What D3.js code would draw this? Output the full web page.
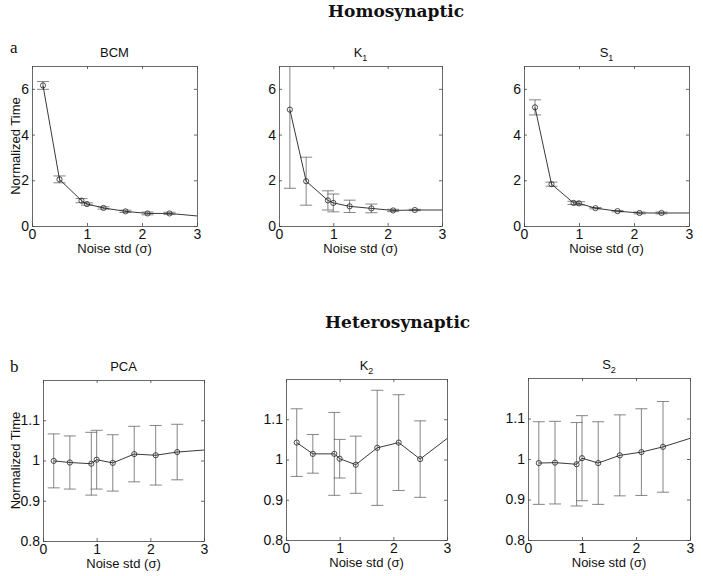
<!DOCTYPE html>
<html>
<head>
<meta charset="utf-8">
<script src="https://cdn.jsdelivr.net/npm/d3@7"></script>
<style>
  body { margin: 0; background: #fff; }
  svg { display: block; }
  .tick text { font-family: "Liberation Sans", Arial, sans-serif; font-size: 14px; fill: #111; }
  .lab { font-family: "Liberation Sans", Arial, sans-serif; font-size: 13px; fill: #111; }
  .sect { font-family: "DejaVu Serif", serif; font-weight: bold; font-size: 17px; fill: #111; }
  .letter { font-family: "Liberation Serif", "DejaVu Serif", serif; font-size: 17px; fill: #111; }
</style>
</head>
<body>
<div id="chart"></div>
<script>
// noise levels where the runs were done (line continues to x = 3 without marker)
const noiseStd = [0.2, 0.5, 0.9, 1.0, 1.3, 1.7, 2.1, 2.5];
const lineEndX = 3;

// Homosynaptic
const bcmMean = [6.15, 2.04, 1.11, 0.96, 0.79, 0.64, 0.55, 0.55];
const bcmErr  = [0.17, 0.15, 0.09, 0.05, 0.05, 0.05, 0.06, 0.05];
const bcmEnd  = 0.44;
const k1Mean  = [5.09, 1.96, 1.12, 1.01, 0.86, 0.77, 0.68, 0.70];
const k1Err   = [3.44, 1.05, 0.42, 0.39, 0.27, 0.19, 0.05, 0.03];
const k1End   = 0.70;
const s1Mean  = [5.19, 1.83, 1.01, 0.99, 0.78, 0.65, 0.57, 0.57];
const s1Err   = [0.33, 0.09, 0.07, 0.07, 0.03, 0.03, 0.04, 0.04];
const s1End   = 0.57;

// Heterosynaptic
const pcaMean = [0.999, 0.995, 0.992, 1.002, 0.994, 1.016, 1.013, 1.021];
const pcaErr  = [0.067, 0.066, 0.078, 0.073, 0.070, 0.069, 0.074, 0.069];
const pcaEnd  = 1.026;
const k2Mean  = [1.042, 1.014, 1.014, 1.002, 0.987, 1.029, 1.042, 1.001];
const k2Err   = [0.084, 0.048, 0.103, 0.048, 0.071, 0.143, 0.119, 0.095];
const k2End   = 1.052;
const s2Mean  = [0.990, 0.991, 0.987, 1.002, 0.990, 1.009, 1.017, 1.030];
const s2Err   = [0.102, 0.102, 0.103, 0.105, 0.102, 0.100, 0.107, 0.112];
const s2End   = 1.051;

const xTicks = [0, 1, 2, 3];
const yTicksTop = [0, 2, 4, 6];
const yTicksBottom = [0.8, 0.9, 1, 1.1];
const yDomainTop = [0, 7];
const yDomainBottom = [0.8, 1.2];

const W = 703, H = 576;
const svg = d3.select('#chart').append('svg').attr('width', W).attr('height', H);

const panels = [
  { name: 'BCM', sub: null, mean: bcmMean, err: bcmErr, end: bcmEnd, left: 32,  top: 66,  w: 165, h: 160, dom: yDomainTop, ticks: yTicksTop, ylabel: true },
  { name: 'K',   sub: '1',  mean: k1Mean,  err: k1Err,  end: k1End,  left: 279, top: 66,  w: 163, h: 160, dom: yDomainTop, ticks: yTicksTop, ylabel: false },
  { name: 'S',   sub: '1',  mean: s1Mean,  err: s1Err,  end: s1End,  left: 524, top: 66,  w: 165, h: 160, dom: yDomainTop, ticks: yTicksTop, ylabel: false },
  { name: 'PCA', sub: null, mean: pcaMean, err: pcaErr, end: pcaEnd, left: 43,  top: 380, w: 161, h: 161, dom: yDomainBottom, ticks: yTicksBottom, ylabel: true },
  { name: 'K',   sub: '2',  mean: k2Mean,  err: k2Err,  end: k2End,  left: 286, top: 379, w: 161, h: 161, dom: yDomainBottom, ticks: yTicksBottom, ylabel: false },
  { name: 'S',   sub: '2',  mean: s2Mean,  err: s2Err,  end: s2End,  left: 528, top: 378, w: 162, h: 162, dom: yDomainBottom, ticks: yTicksBottom, ylabel: false }
];

// section headings and panel letters
svg.append('text').attr('class', 'sect').attr('x', 328).attr('y', 17).text('Homosynaptic');
svg.append('text').attr('class', 'sect').attr('x', 325).attr('y', 328).text('Heterosynaptic');
svg.append('text').attr('class', 'letter').attr('x', 10).attr('y', 53).text('a');
svg.append('text').attr('class', 'letter').attr('x', 10).attr('y', 372).text('b');

const fmt = d => (d === 1 ? '1' : d3.format('~g')(d));

panels.forEach((p, i) => {
  const x = d3.scaleLinear().domain([0, 3]).range([0, p.w]);
  const y = d3.scaleLinear().domain(p.dom).range([p.h, 0]);
  const g = svg.append('g').attr('transform', `translate(${p.left},${p.top})`);

  g.append('clipPath').attr('id', 'clip' + i)
    .append('rect').attr('width', p.w).attr('height', p.h);

  // axes, MATLAB-style inward ticks on all four sides
  g.append('g').attr('transform', `translate(0,${p.h})`)
    .call(d3.axisBottom(x).tickValues(xTicks).tickSizeInner(-3).tickSizeOuter(0).tickPadding(3).tickFormat(d3.format('d')));
  g.append('g')
    .call(d3.axisLeft(y).tickValues(p.ticks).tickSizeInner(-3).tickSizeOuter(0).tickPadding(3).tickFormat(fmt));
  g.append('g')
    .call(d3.axisTop(x).tickValues(xTicks).tickSizeInner(-3).tickSizeOuter(0).tickFormat(''));
  g.append('g').attr('transform', `translate(${p.w},0)`)
    .call(d3.axisRight(y).tickValues(p.ticks).tickSizeInner(-3).tickSizeOuter(0).tickFormat(''));
  g.selectAll('.domain, .tick line').attr('stroke', '#444').attr('stroke-width', 0.8);

  const plot = g.append('g').attr('clip-path', `url(#clip${i})`);
  const pts = noiseStd.map((n, j) => ({ x: n, m: p.mean[j], e: p.err[j] }));

  // error bars
  const cap = 6;
  const eb = plot.append('g').attr('stroke', '#666').attr('stroke-width', 0.8).attr('fill', 'none');
  pts.forEach(d => {
    const cx = x(d.x), y1 = y(d.m + d.e), y2 = y(d.m - d.e);
    eb.append('line').attr('x1', cx).attr('x2', cx).attr('y1', y1).attr('y2', y2);
    eb.append('line').attr('x1', cx - cap).attr('x2', cx + cap).attr('y1', y1).attr('y2', y1);
    eb.append('line').attr('x1', cx - cap).attr('x2', cx + cap).attr('y1', y2).attr('y2', y2);
  });

  // mean line, continuing to x = 3
  const lineData = pts.map(d => [d.x, d.m]).concat([[lineEndX, p.end]]);
  plot.append('path').datum(lineData)
    .attr('fill', 'none').attr('stroke', '#222').attr('stroke-width', 0.9)
    .attr('d', d3.line().x(d => x(d[0])).y(d => y(d[1])));

  plot.selectAll('circle.mk').data(pts).join('circle')
    .attr('class', 'mk')
    .attr('cx', d => x(d.x)).attr('cy', d => y(d.m)).attr('r', 2.6)
    .attr('fill', 'none').attr('stroke', '#222').attr('stroke-width', 0.8);

  // title
  const t = g.append('text').attr('class', 'lab').attr('x', p.w / 2).attr('y', -9)
    .attr('text-anchor', 'middle').text(p.name);
  if (p.sub) t.append('tspan').attr('dy', 4).attr('font-size', 9).text(p.sub);

  g.append('text').attr('class', 'lab').attr('x', p.w / 2).attr('y', p.h + 27)
    .attr('text-anchor', 'middle').text('Noise std (σ)');

  if (p.ylabel) {
    g.append('text').attr('class', 'lab')
      .attr('transform', `translate(${-p.left + 20},${p.h / 2}) rotate(-90)`)
      .attr('text-anchor', 'middle').text('Normalized Time');
  }
});
</script>
</body>
</html>
